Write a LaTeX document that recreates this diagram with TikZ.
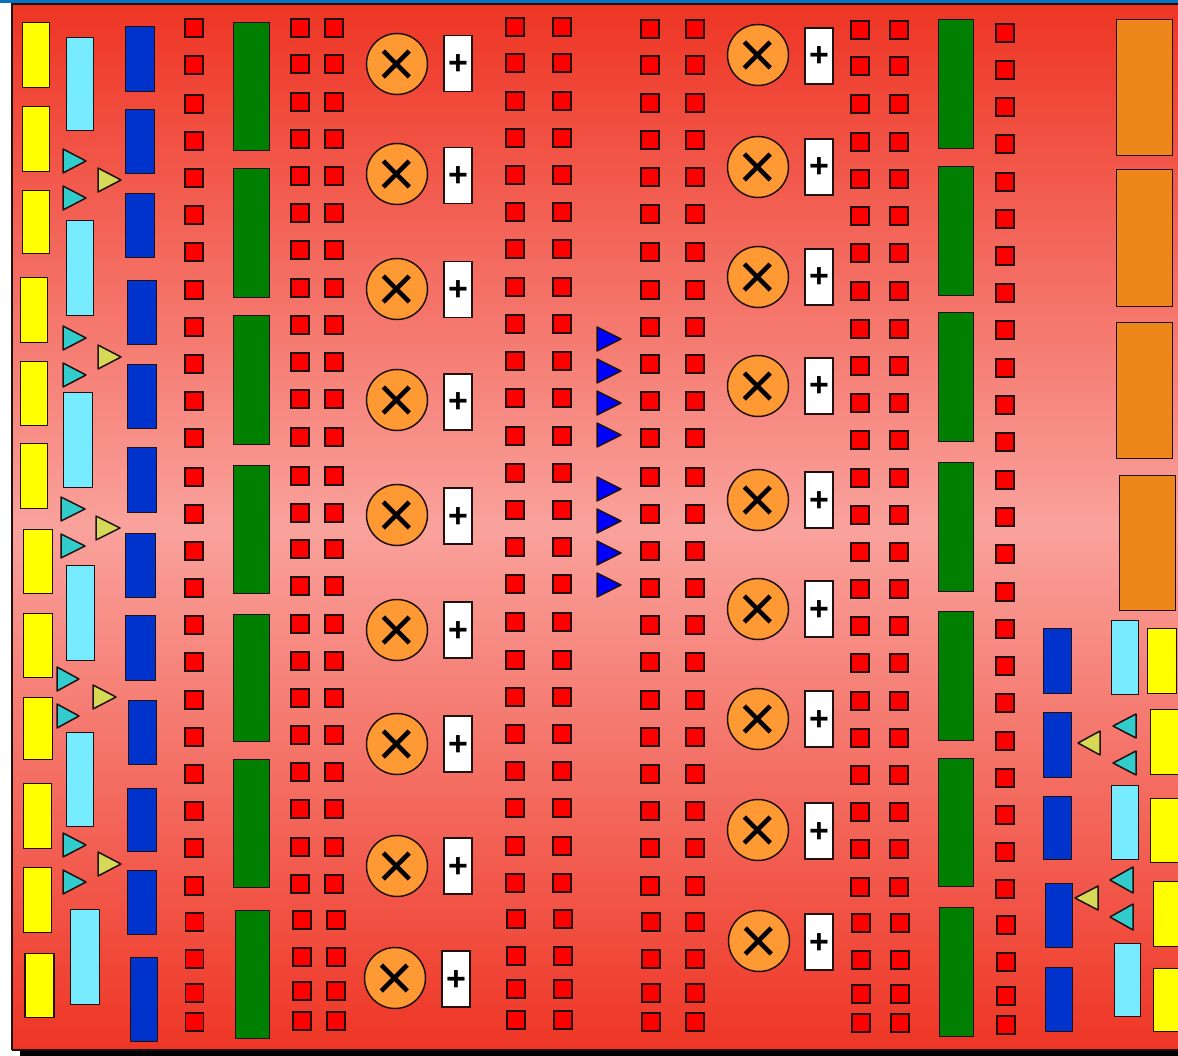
\documentclass[tikz,border=0pt]{standalone}
\usepackage{fontspec}
\setmainfont{Liberation Sans}
\definecolor{yellow1}{HTML}{FFFF00}
\definecolor{cyan1}{HTML}{77EBFF}
\definecolor{blue1}{HTML}{0033CC}
\definecolor{green1}{HTML}{007F00}
\definecolor{orange1}{HTML}{EE871B}
\definecolor{orange2}{HTML}{FF9933}
\definecolor{teal2}{HTML}{33CCCC}
\definecolor{olive2}{HTML}{D6D955}
\definecolor{bgedge}{HTML}{EE3524}
\definecolor{bgmid}{HTML}{F9A29C}
\definecolor{barblue}{HTML}{0A70C0}
\definecolor{pure}{HTML}{0000FF}
\definecolor{line1}{HTML}{201010}
\begin{document}
\begin{tikzpicture}[x=1pt,y=-1pt,line width=1.5pt,
  every node/.style={inner sep=0pt,outer sep=0pt,draw=line1,line width=1.5pt},
  yel/.style={fill=yellow1},
  cya/.style={fill=cyan1},
  blu/.style={fill=blue1},
  grn/.style={fill=green1},
  org/.style={fill=orange1},
  sq/.style={fill=red,minimum width=17.6pt,minimum height=18.4pt},
  circ/.style={circle,fill=orange2,minimum size=61pt,font=\fontsize{66}{66}\selectfont},
  plusbox/.style={fill=white,minimum width=28pt,minimum height=56pt,font=\bfseries\fontsize{34}{34}\selectfont},
  teal1/.style={draw=line1,fill=teal2,line join=round},
  olive1/.style={draw=line1,fill=olive2,line join=round},
  btri/.style={draw=line1,fill=pure,line join=round}]
\newcommand\bx[6]{\node[#2,name=#1,minimum width={(#5-#3-0.9)*1pt},minimum height={(#6-#4-0.9)*1pt}] at ({(#3+#5)/2},{(#4+#6)/2}) {};}
\newcommand\trg[6]{\draw[#2] ({#3},{#5-#6}) -- ({#4},{#5}) -- ({#3},{#5+#6}) -- cycle;}
\useasboundingbox (0,0) rectangle (1178,1056);
\fill[white] (0,0) rectangle (1178,1056);
\fill[black] (20,1046) rectangle (1178,1056);
\fill[barblue] (0,0) rectangle (1178,3);
\foreach \s in {0,2,...,1044} {%
  \pgfmathsetmacro\p{abs(\s-523)/5.23}%
  \fill[bgedge!\p!bgmid] (12,{4+\s}) rectangle (1178,{4+\s+2.5});
}
\draw[line1,line width=1.2pt] (12,1050) -- (12,4) -- (1178,4);
\draw[line1,line width=1.2pt] (12,1050) -- (1178,1050);
% left yellow
\bx{ya}{yel}{22}{22}{50}{88}\bx{yb}{yel}{22}{106}{50}{172}\bx{yc}{yel}{22}{190}{50}{254}
\bx{yd}{yel}{20}{277}{48}{343}\bx{ye}{yel}{20}{361}{48}{426}\bx{yf}{yel}{20}{443}{48}{509}
\bx{yg}{yel}{23}{529}{53}{594}\bx{yh}{yel}{23}{613}{53}{678}\bx{yi}{yel}{23}{697}{53}{760}
\bx{yj}{yel}{23}{783}{52}{849}\bx{yk}{yel}{23}{867}{52}{933}\bx{yl}{yel}{24.5}{953}{54.5}{1018}
% left cyan
\bx{ca}{cya}{66}{37}{94}{131}\bx{cb}{cya}{66}{220}{94}{316}\bx{cc}{cya}{63}{392}{93}{488}
\bx{cd}{cya}{66}{565}{95}{661}\bx{ce}{cya}{66}{732}{94}{827}\bx{cf}{cya}{70}{909}{100}{1005}
% left blue
\bx{ba}{blu}{125}{26}{155}{92}\bx{bb}{blu}{125}{109}{155}{174}\bx{bc}{blu}{125}{193}{155}{258}
\bx{bd}{blu}{127}{280}{157}{345}\bx{be}{blu}{127}{364}{157}{429}\bx{bf}{blu}{127}{447}{157}{513}
\bx{bg}{blu}{125}{533}{156}{598}\bx{bh}{blu}{125}{615}{156}{681}\bx{bi}{blu}{128}{700}{157}{765}
\bx{bj}{blu}{127}{788}{157}{852}\bx{bk}{blu}{127}{870}{157}{935}\bx{bl}{blu}{130}{957}{158}{1042}
% left triangles
\trg{t}{teal1}{63}{86}{161}{12}\trg{t}{teal1}{63}{86}{198}{12}
\trg{t}{teal1}{63}{86}{338}{12}\trg{t}{teal1}{63}{86}{375}{12}
\trg{t}{teal1}{61}{85}{509}{12}\trg{t}{teal1}{61}{85}{546}{12}
\trg{t}{teal1}{57}{79}{679}{12}\trg{t}{teal1}{57}{79}{716}{12}
\trg{t}{teal1}{63}{86}{845}{12}\trg{t}{teal1}{63}{86}{882}{12}
\trg{o}{olive1}{98}{121}{180}{12}\trg{o}{olive1}{98}{121}{357}{12}
\trg{o}{olive1}{96}{120}{528}{12}\trg{o}{olive1}{93}{116}{697}{12}\trg{o}{olive1}{98}{121}{864}{12}
% red squares
\newcommand\sqcol[5]{%
 \foreach \y [count=\i] in {#3} {\node[sq,name=#1\i] at (#2,\y) {};}
 \foreach \y [count=\i] in {#5} {\node[sq,name=#1z\i] at (#4,\y) {};}}
\sqcol{r}{194}{28,65,104,141,178,215,252,290,327,364,401,438,477,514,551,588,625,662,700,737,774,811,848,886}{194.5}{922,959,993,1022}
\sqcol{s}{300}{28,64,102,139,176,213,250,288,325,362,399,437,476,513,549,586,624,661,698,735,772,809,847,884}{302}{920,957,991,1021}
\sqcol{u}{334}{28,64,102,139,176,213,250,288,325,362,399,437,476,513,549,586,624,661,698,735,772,809,847,884}{336}{920,957,991,1021}
\sqcol{v}{515}{27,63,101,138,175,212,249,287,324,361,398,436,473,510,547,584,622,660,697,734,771,808,846,883}{516}{919,956,989,1020}
\sqcol{w}{562}{27,63,101,138,175,212,249,287,324,361,398,436,473,510,547,584,622,660,697,734,771,808,846,883}{563}{919,956,989,1020}
\sqcol{k}{650}{29,65,103,140,177,214,252,290,327,364,401,438,477,514,551,588,625,662,700,737,774,811,848,886}{651}{922,959,993,1022}
\sqcol{m}{695}{29,65,103,140,177,214,252,290,327,364,401,438,477,514,551,588,625,662,700,737,774,811,848,886}{695}{922,959,993,1022}
\sqcol{n}{860}{30,66,104,142,179,216,253,291,329,366,403,440,478,515,552,589,626,663,701,738,775,812,849,887}{861}{923,960,994,1023}
\sqcol{p}{899}{30,66,104,142,179,216,253,291,329,366,403,440,478,515,552,589,626,663,701,738,775,812,849,887}{900}{923,960,994,1023}
\sqcol{q}{1005}{33,70,107,144,182,219,256,293,330,368,405,442,480,517,554,592,629,666,703,741,778,815,852,889}{1006}{925,962,996,1025}
% green
\bx{ga}{grn}{233}{22}{270}{151}\bx{gb}{grn}{233}{168}{270}{298}\bx{gc}{grn}{233}{315}{270}{445}
\bx{gd}{grn}{233}{465}{270}{594}\bx{ge}{grn}{233}{614}{270}{742}\bx{gf}{grn}{233}{759}{270}{888}
\bx{gg}{grn}{235}{910}{270}{1039}
\bx{ha}{grn}{938}{19}{974}{149}\bx{hb}{grn}{938}{166}{974}{296}\bx{hc}{grn}{938}{312}{974}{442}
\bx{hd}{grn}{938}{462}{974}{592}\bx{he}{grn}{938}{611}{974}{741}\bx{hf}{grn}{938}{758}{974}{887}
\bx{hg}{grn}{939}{907}{974}{1037}
% multipliers and adders
\newcommand\mult[3]{\node[circ,name=#1] at (#2,#3) {\raisebox{-22.5pt}[0pt][0pt]{×}};}
\newcommand\addr[3]{\node[plusbox,name=#1] at (#2,#3) {\raisebox{-11pt}[0pt][0pt]{+}};}
\foreach \y [count=\i] in {64,174,289,400,515,630,744,866} {\mult{ml\i}{397}{\y}}
\mult{ml9}{395}{978}
\foreach \y [count=\i] in {63.5,175.5,289.5,402,516,630,744,866} {\addr{al\i}{458}{\y}}
\addr{al9}{456}{979}
\foreach \y [count=\i] in {55,167,277,386,500,609,719,830} {\mult{mr\i}{758}{\y}}
\mult{mr9}{759}{941}
\foreach \y [count=\i] in {56,167,277,386,500,609,719,831,942} {\addr{ar\i}{819}{\y}}
% blue triangles
\foreach \y in {339,371,403,435,489,521,553,585} {\trg{x}{btri}{597}{621}{\y}{12}}
% orange
\bx{oa}{org}{1116}{19}{1173}{156}\bx{ob}{org}{1116}{169}{1173}{307}\bx{oc}{org}{1116}{322}{1173}{459}
\bx{od}{org}{1119}{475}{1176}{611}
% right blue
\bx{ra}{blu}{1043}{628}{1072}{694}\bx{rb}{blu}{1043}{712}{1072}{778}\bx{rc}{blu}{1043}{796}{1072}{860}
\bx{rd}{blu}{1045}{883}{1073}{948}\bx{re}{blu}{1045}{967}{1073}{1032}
% right cyan
\bx{rf}{cya}{1111}{620}{1139}{695}\bx{rg}{cya}{1111}{785}{1139}{860}\bx{rh}{cya}{1114}{943}{1141}{1017}
% right yellow
\bx{ri}{yel}{1147}{628}{1177}{694}\bx{rj}{yel}{1150}{709}{1180}{775}\bx{rk}{yel}{1150}{798}{1180}{863}
\bx{rl}{yel}{1153}{881}{1183}{947}\bx{rm}{yel}{1153}{968}{1183}{1032}
% right triangles
\trg{t}{teal1}{1136}{1113}{726}{12}\trg{t}{teal1}{1136}{1113}{763}{12}
\trg{t}{teal1}{1133}{1110}{880}{13}\trg{t}{teal1}{1133}{1110}{917}{13}
\trg{o}{olive1}{1100}{1078}{743}{12}\trg{o}{olive1}{1098}{1075}{898}{12}
\end{tikzpicture}
\end{document}
